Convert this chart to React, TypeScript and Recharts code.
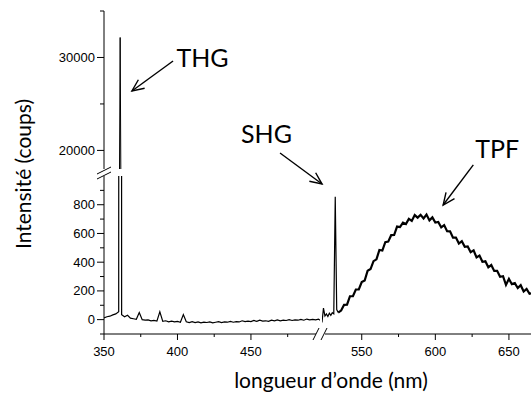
import { LineChart, Line, XAxis, YAxis, ReferenceLine, ReferenceDot } from 'recharts';

// spectrum, left part of the broken x axis (nm / counts)
const leftNm = [
  350, 352, 354, 356, 358, 360, 361, 362, 364, 366, 368, 370, 372, 374, 376, 378, 380, 382, 384, 386,
  388, 390, 392, 394, 396, 398, 400, 402, 404, 406, 408, 410, 412, 414, 416, 418, 420, 422, 424, 426,
  428, 430, 432, 434, 436, 438, 440, 442, 444, 446, 448, 450, 452, 454, 456, 458, 460, 462, 464, 466,
  468, 470, 472, 474, 476, 478, 480, 482, 484, 486, 488, 490, 492, 494, 496, 497,
];
const leftCounts = [
  12, 20, 24, 33, 40, 55, 32150, 35, 20, 30, 10, 6, 2, 50, 0, -4, -2, -8, -5, -10,
  55, -12, -8, -15, -10, -16, -12, -18, 35, -15, -20, -14, -20, -16, -22, -18, -20, -16, -22, -18,
  -14, -20, -16, -18, -12, -18, -14, -16, -8, -14, -10, -14, -6, -12, -4, -10, -8, -12, -4, -8,
  -2, -8, -4, -6, 0, -6, -2, -4, 2, -4, 4, -2, 2, -2, 4, -4,
];

// right part of the broken x axis: SHG line + TPF band
const rightNm = [
  523, 524, 525, 526, 527, 528, 529, 530, 531, 532, 533, 534, 536, 538, 540, 542, 544, 546, 548, 550,
  552, 554, 556, 558, 560, 562, 564, 566, 568, 570, 572, 574, 576, 578, 580, 582, 584, 586, 588, 590,
  592, 594, 596, 598, 600, 602, 604, 606, 608, 610, 612, 614, 616, 618, 620, 622, 624, 626, 628, 630,
  632, 634, 636, 638, 640, 642, 644, 646, 648, 650, 652, 654, 656, 658, 660, 662, 664, 666,
];
const rightCounts = [
  -20, 80, 25, 40, 22, 45, 30, 48, 40, 855, 70, 50, 63, 103, 104, 163, 164, 210, 211, 261,
  272, 341, 352, 407, 420, 485, 481, 539, 543, 588, 589, 648, 644, 675, 666, 701, 687, 728, 710, 730,
  705, 732, 691, 712, 676, 680, 642, 658, 616, 615, 571, 571, 530, 546, 507, 510, 470, 482, 433, 446,
  403, 406, 364, 380, 339, 340, 298, 302, 242, 284, 247, 254, 220, 240, 196, 214, 180, 185,
];
const tpfStart = 534; // the broad fluorescence band is drawn heavier

const lowYTicks = [-100, 0, 100, 200, 300, 400, 500, 600, 700, 800, 900];
const lowYLabels = [0, 200, 400, 600, 800];
const upYTicks = [20000, 25000, 30000, 35000];
const upYLabels = [20000, 30000];
const leftXTicks = [350, 375, 400, 425, 450, 475];
const rightXTicks = [550, 575, 600, 625, 650];
const xLabels = [350, 400, 450, 550, 600, 650];

// annotations, in data units of the panel they sit in
const thgNote = { text: 'THG', at: [417, 30000], from: [397, 29620], to: [369, 26390] };
const shgNote = { text: 'SHG', at: [460.6, 1296], from: [469.8, 1160], to: [498.4, 944] };
const tpfNote = { text: 'TPF', at: [642, 1198], from: [625.8, 1077], to: [605.3, 798] };

const leftData = leftNm.map((nm, i) => ({ nm, counts: leftCounts[i] }));
const rightData = rightNm.map((nm, i) => ({
  nm,
  shg: nm <= tpfStart ? rightCounts[i] : null,
  tpf: nm >= tpfStart ? rightCounts[i] : null,
}));

const W = 531;
const H = 396;
const tickFont = "'Liberation Sans', Arial, sans-serif";
const handFont = "'Comic Sans MS', Lato, sans-serif";

function YTick({ x, y, payload, labels }: any) {
  const major = labels.includes(payload.value);
  const len = major ? 7 : 4;
  return (
    <g>
      <line x1={x - len} x2={x} y1={y} y2={y} stroke="#000" />
      {major && (
        <text x={x - len - 2} y={y} textAnchor="end" dominantBaseline="central" fontSize={13} fontFamily={tickFont} fill="#000">
          {payload.value}
        </text>
      )}
    </g>
  );
}

function XTick({ x, y, payload }: any) {
  const major = xLabels.includes(payload.value);
  const len = major ? 6 : 3;
  return (
    <g>
      <line x1={x} x2={x} y1={y} y2={y + len} stroke="#000" />
      {major && (
        <text x={x} y={y + 22} textAnchor="middle" fontSize={13} fontFamily={tickFont} fill="#000">
          {payload.value}
        </text>
      )}
    </g>
  );
}

function Arrow({ x1, y1, x2, y2 }: any) {
  const ang = Math.atan2(y2 - y1, x2 - x1);
  const h = 13;
  const a = 0.42;
  const p1 = `${x2 - h * Math.cos(ang - a)},${y2 - h * Math.sin(ang - a)}`;
  const p2 = `${x2 - h * Math.cos(ang + a)},${y2 - h * Math.sin(ang + a)}`;
  return (
    <g stroke="#000" strokeWidth={1.4} fill="none">
      <line x1={x1} y1={y1} x2={x2} y2={y2} />
      <polyline points={`${p1} ${x2},${y2} ${p2}`} />
    </g>
  );
}

function note(n: any) {
  return [
    <ReferenceLine
      key={n.text + 'a'}
      segment={[{ x: n.from[0], y: n.from[1] }, { x: n.to[0], y: n.to[1] }]}
      ifOverflow="visible"
      shape={<Arrow />}
    />,
    <ReferenceDot
      key={n.text + 't'}
      x={n.at[0]}
      y={n.at[1]}
      ifOverflow="visible"
      shape={(p: any) => (
        <text x={p.cx} y={p.cy} textAnchor="middle" dominantBaseline="central" fontSize={25} fontFamily={handFont} fill="#000">
          {n.text}
        </text>
      )}
    />,
  ];
}

const layer: any = { position: 'absolute', left: 0, top: 0 };

export default function App() {
  return (
    <div style={{ position: 'absolute', left: 0, top: 0, width: W, height: H, background: '#fff' }}>
      {/* upper part of the y axis, only the THG line reaches it */}
      <div style={layer}>
        <LineChart width={W} height={H} data={leftData} margin={{ top: 11, right: 211, bottom: 227, left: 44 }}>
          <XAxis hide type="number" dataKey="nm" domain={[350, 497]} allowDataOverflow />
          <YAxis
            type="number"
            width={60}
            domain={[18000, 35000]}
            allowDataOverflow
            ticks={upYTicks}
            interval={0}
            tickSize={0}
            tickMargin={0}
            tickLine={false}
            axisLine={{ stroke: '#000' }}
            tick={(p: any) => <YTick {...p} labels={upYLabels} />}
          />
          {note(thgNote)}
          <Line type="linear" dataKey="counts" stroke="#000" strokeWidth={1} dot={false} isAnimationActive={false} />
        </LineChart>
      </div>

      {/* lower left panel */}
      <div style={layer}>
        <LineChart width={W} height={H} data={leftData} margin={{ top: 176, right: 211, bottom: 32, left: 44 }}>
          <XAxis
            type="number"
            dataKey="nm"
            height={30}
            domain={[350, 497]}
            allowDataOverflow
            ticks={leftXTicks}
            interval={0}
            tickSize={0}
            tickMargin={0}
            tickLine={false}
            axisLine={{ stroke: '#000' }}
            tick={<XTick />}
          />
          <YAxis
            type="number"
            width={60}
            domain={[-100, 1000]}
            allowDataOverflow
            ticks={lowYTicks}
            interval={0}
            tickSize={0}
            tickMargin={0}
            tickLine={false}
            axisLine={{ stroke: '#000' }}
            tick={(p: any) => <YTick {...p} labels={lowYLabels} />}
          />
          {note(shgNote)}
          <Line type="linear" dataKey="counts" stroke="#000" strokeWidth={1.2} dot={false} isAnimationActive={false} />
        </LineChart>
      </div>

      {/* lower right panel, after the x break */}
      <div style={layer}>
        <LineChart width={W} height={H} data={rightData} margin={{ top: 176, right: 0, bottom: 32, left: 322 }}>
          <XAxis
            type="number"
            dataKey="nm"
            height={30}
            domain={[523, 665]}
            allowDataOverflow
            ticks={rightXTicks}
            interval={0}
            tickSize={0}
            tickMargin={0}
            tickLine={false}
            axisLine={{ stroke: '#000' }}
            tick={<XTick />}
          />
          <YAxis hide type="number" domain={[-100, 1000]} allowDataOverflow />
          {note(tpfNote)}
          <Line type="linear" dataKey="shg" stroke="#000" strokeWidth={1.2} dot={false} isAnimationActive={false} />
          <Line type="linear" dataKey="tpf" stroke="#000" strokeWidth={2.2} dot={false} isAnimationActive={false} />
        </LineChart>
      </div>

      {/* titles and break marks */}
      <svg width={W} height={H} style={{ ...layer, pointerEvents: 'none' }}>
        <rect x={316} y={332} width={9} height={4} fill="#fff" />
        <g stroke="#000" strokeWidth={1}>
          <line x1={313} y1={340} x2={319} y2={328} />
          <line x1={321} y1={340} x2={327} y2={328} />
          <line x1={97} y1={174} x2={111} y2={167} />
          <line x1={97} y1={179} x2={111} y2={172} />
        </g>
        <text x={331} y={388} textAnchor="middle" fontSize={21} fontFamily={handFont} fill="#000">
          longueur d’onde (nm)
        </text>
        <text
          x={0}
          y={0}
          transform="translate(31,174) rotate(-90)"
          textAnchor="middle"
          fontSize={21}
          fontFamily={handFont}
          fill="#000"
        >
          Intensité (coups)
        </text>
      </svg>
    </div>
  );
}
